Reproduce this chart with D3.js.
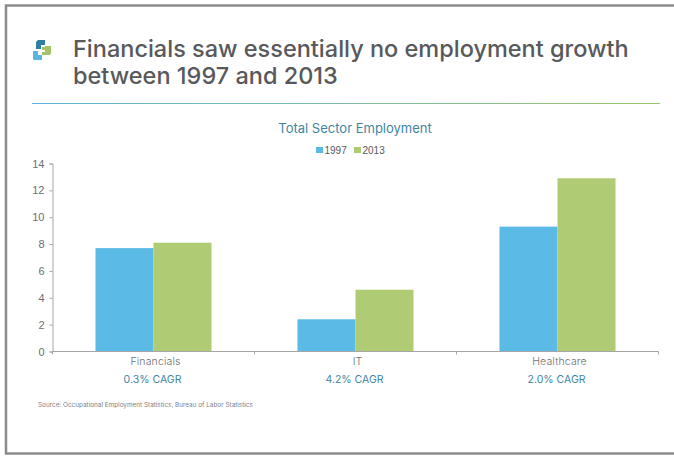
<!DOCTYPE html>
<html>
<head>
<meta charset="utf-8">
<script src="https://cdn.jsdelivr.net/npm/d3@7"></script>
<style>
html,body{margin:0;padding:0;background:#fff}
svg{display:block}
text{font-family:Inter,"Open Sans",sans-serif}
.tick text{font-family:"Liberation Sans",Arial,sans-serif}
</style>
</head>
<body>
<svg id="chart" width="674" height="456"></svg>
<script>
const categories = ["Financials", "IT", "Healthcare"];
const cagrLabels = ["0.3% CAGR", "4.2% CAGR", "2.0% CAGR"];
const seriesNames = ["1997", "2013"];
const values1997 = [7.7, 2.4, 9.3];
const values2013 = [8.1, 4.6, 12.9];
const yTicks = [0, 2, 4, 6, 8, 10, 12, 14];
const seriesColors = ["#5bbae6", "#afcb74"];
const titleLines = ["Financials saw essentially no employment growth", "between 1997 and 2013"];
const chartTitle = "Total Sector Employment";
const sourceNote = "Source: Occupational Employment Statistics, Bureau of Labor Statistics";

const svg = d3.select("#chart");
const axisGrey = "#a6a6a6";

// Slide frame: top, left and bottom rules
svg.append("path")
  .attr("d", "M674,5.5H6V453.5H674")
  .attr("fill", "none")
  .attr("stroke", "#8c8c8c")
  .attr("stroke-width", 2.5);

// Logo built from three interlocking squares
const logo = svg.append("g").attr("transform", "translate(33,40)");
logo.append("path").attr("d", "M4,1L5,0H12V5H8V9H3V2Z").attr("fill", "#2f7f9f");
logo.append("path").attr("d", "M9,7H12V6H18V13L17,15H9V12H12V10H9Z").attr("fill", "#a3c464");
logo.append("path").attr("d", "M0,11H5V15H9V20H1L0,19Z").attr("fill", "#5bb5e3");

// Headline
svg.append("g").selectAll("text").data(titleLines).join("text")
  .attr("x", 73)
  .attr("y", (d, i) => 57 + i * 27)
  .attr("font-size", 23.5)
  .attr("font-weight", 500)
  .attr("fill", "#58595b")
  .text(d => d);

// Gradient rule under the headline
const grad = svg.append("defs").append("linearGradient").attr("id", "ruleGrad");
grad.append("stop").attr("offset", "0%").attr("stop-color", "#5fb3dc");
grad.append("stop").attr("offset", "100%").attr("stop-color", "#9ac66a");
svg.append("rect")
  .attr("x", 32).attr("y", 103).attr("width", 628).attr("height", 1)
  .attr("fill", "url(#ruleGrad)");

svg.append("text")
  .attr("x", 355).attr("y", 133)
  .attr("text-anchor", "middle")
  .attr("font-size", 13)
  .attr("fill", "#3f85a3")
  .text(chartTitle);

// Legend
const legend = svg.append("g");
const legendX = [316, 354];
seriesNames.forEach((name, i) => {
  legend.append("rect")
    .attr("x", legendX[i]).attr("y", 147)
    .attr("width", 7).attr("height", 6)
    .attr("fill", seriesColors[i]);
  legend.append("text")
    .attr("x", legendX[i] + 8.5).attr("y", 154)
    .attr("font-size", 10)
    .attr("fill", "#58595b")
    .style("font-family", '"Liberation Sans",Arial,sans-serif')
    .text(name);
});

// Scales
const x = d3.scaleBand().domain(categories).range([52.5, 658.5]);
const x1 = d3.scaleBand().domain(seriesNames).range([0, x.bandwidth()]).paddingOuter(0.741);
const y = d3.scaleLinear().domain([0, 14]).range([351.5, 163.5]);

// Bars
const seriesValues = [values1997, values2013];
seriesNames.forEach((name, s) => {
  svg.append("g").selectAll("rect").data(categories).join("rect")
    .attr("x", c => x(c) + x1(name))
    .attr("y", (c, i) => y(seriesValues[s][i]))
    .attr("width", x1.bandwidth())
    .attr("height", (c, i) => y(0) - y(seriesValues[s][i]))
    .attr("fill", seriesColors[s]);
});

// Y axis
const yAxis = svg.append("g")
  .attr("transform", "translate(52.5,0)")
  .call(d3.axisLeft(y).tickValues(yTicks).tickSize(3).tickPadding(5).tickFormat(d3.format("d")));
yAxis.selectAll("path,line").attr("stroke", axisGrey).attr("stroke-width", 1);
yAxis.selectAll("text").attr("font-size", 11).attr("fill", "#6d6e71");

// X axis with ticks at the band boundaries
const xAxisG = svg.append("g");
xAxisG.append("line")
  .attr("x1", x.range()[0]).attr("x2", x.range()[1])
  .attr("y1", 351.5).attr("y2", 351.5)
  .attr("stroke", axisGrey);
const boundaries = categories.map(c => x(c)).concat(x.range()[1]);
xAxisG.selectAll("line.b").data(boundaries).join("line")
  .attr("class", "b")
  .attr("x1", d => d).attr("x2", d => d)
  .attr("y1", 351.5).attr("y2", 354.5)
  .attr("stroke", axisGrey);

// Category and growth-rate labels
svg.append("g").selectAll("text").data(categories).join("text")
  .attr("x", c => x(c) + x.bandwidth() / 2 + 2)
  .attr("y", 365)
  .attr("text-anchor", "middle")
  .attr("font-size", 10.5)
  .attr("font-weight", 300)
  .attr("letter-spacing", 0.15)
  .attr("fill", "#6d6e71")
  .text(d => d);
svg.append("g").selectAll("text").data(cagrLabels).join("text")
  .attr("x", (d, i) => x(categories[i]) + x.bandwidth() / 2 - 1)
  .attr("y", 383)
  .attr("text-anchor", "middle")
  .attr("font-size", 10.5)
  .attr("fill", "#3f85a3")
  .text(d => d);

svg.append("text")
  .attr("x", 38).attr("y", 407)
  .attr("font-size", 6.4)
  .attr("fill", "#808285")
  .text(sourceNote);
</script>
</body>
</html>
